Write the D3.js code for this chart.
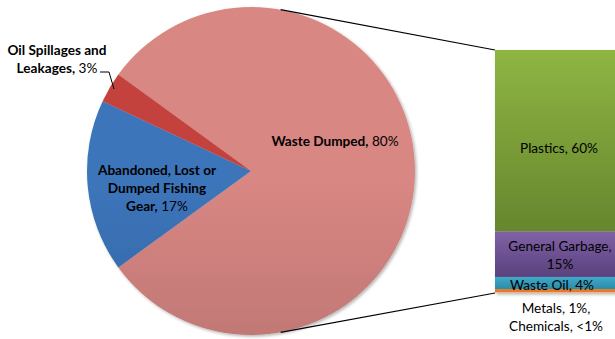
<!DOCTYPE html>
<html><head><meta charset="utf-8">
<script src="https://cdn.jsdelivr.net/npm/d3@7"></script>
<style>body{margin:0;background:#fff}svg{display:block;font-family:Lato,"Open Sans",sans-serif}</style>
</head><body><svg id="c" width="615" height="339"></svg>
<script>
// ---- data ----
const pieCategories = ["Waste Dumped", "Abandoned, Lost or Dumped Fishing Gear", "Oil Spillages and Leakages"];
const pieValues = [80, 17, 3];
const barCategories = ["Plastics", "General Garbage", "Waste Oil", "Metals", "Chemicals"];
const barValues = [60, 15, 4, 1, 0.3];
const barLabels = ["Plastics, 60%", "General Garbage,|15%", "Waste Oil, 4%", "Metals, 1%,|Chemicals, <1%"];

// ---- layout ----
const svg = d3.select("#c");
const cx = 251, cy = 171, R = 164;
const FS = 13.6;
const pieColors = [["#d98783", "#a86967"], ["#3d75bb", "#2a5790"], ["#c4433e", "#9e302c"]];
const barColors = [["#8fb543", "#66862d"], ["#8061a6", "#5a417d"], ["#3fa9c9", "#2b8cab"], ["#e8782a", "#e8782a"], ["#f4b183", "#f4b183"]];

const defs = svg.append("defs");
function grad(id, c, y1, y2) {
  const g = defs.append("linearGradient").attr("id", id).attr("gradientUnits", "userSpaceOnUse")
    .attr("x1", 0).attr("x2", 0).attr("y1", y1).attr("y2", y2);
  g.append("stop").attr("offset", 0).attr("stop-color", c[0]);
  g.append("stop").attr("offset", 1).attr("stop-color", c[1]);
}
pieColors.forEach((c, i) => grad("pg" + i, c, cy - R, cy + R));
const f = defs.append("filter").attr("id", "sh").attr("x", "-10%").attr("y", "-10%").attr("width", "120%").attr("height", "120%");
f.append("feDropShadow").attr("dx", 1.5).attr("dy", 1.5).attr("stdDeviation", 1.5).attr("flood-color", "#000").attr("flood-opacity", 0.3);

const pie = d3.pie().sort(null).startAngle(-0.3 * Math.PI).endAngle(1.7 * Math.PI);
const arcs = pie(pieValues);
const arc = d3.arc().innerRadius(0).outerRadius(R);
const pg = svg.append("g").attr("transform", `translate(${cx},${cy})`).attr("filter", "url(#sh)");
pg.selectAll("path").data(arcs).join("path")
  .attr("d", arc).attr("fill", (d, i) => `url(#pg${i})`);

// ---- bar ----
const barX0 = 495, barX1 = 622, barTop = 50, barBottom = 293;
const total = d3.sum(barValues);
const y = d3.scaleLinear().domain([0, total]).range([barTop, barBottom]);
const stack = [];
let acc = 0;
barValues.forEach((v, i) => { stack.push({ i, y0: acc, y1: acc + v }); acc += v; });
stack.forEach(s => grad("bg" + s.i, barColors[s.i], y(s.y0), y(s.y1)));
svg.append("g").attr("filter", "url(#sh)").selectAll("rect").data(stack).join("rect")
  .attr("x", barX0).attr("width", barX1 - barX0)
  .attr("y", d => y(d.y0)).attr("height", d => y(d.y1) - y(d.y0))
  .attr("fill", d => `url(#bg${d.i})`);

// ---- connector lines ----
const ca = 10.4 * Math.PI / 180;
svg.append("line").attr("x1", cx + R * Math.sin(ca)).attr("y1", cy - R * Math.cos(ca))
  .attr("x2", barX0).attr("y2", y(0)).attr("stroke", "#000").attr("stroke-width", 1.2);
svg.append("line").attr("x1", cx + R * Math.sin(ca)).attr("y1", cy + R * Math.cos(ca))
  .attr("x2", barX0).attr("y2", y(total)).attr("stroke", "#000").attr("stroke-width", 1.2);

// ---- labels ----
function label(x, yy, lines, boldParts, size) {
  const t = svg.append("text").attr("text-anchor", "middle").attr("font-size", size || FS).attr("fill", "#000");
  lines.forEach((ln, k) => {
    const ts = t.append("tspan").attr("x", x).attr("y", yy + k * 18).attr("dominant-baseline", "central");
    const b = boldParts[k];
    if (b) {
      ts.append("tspan").attr("font-weight", "bold").text(b);
      ts.append("tspan").text(ln.slice(b.length));
    } else ts.text(ln);
  });
}
label(335, 141, ["Waste Dumped, 80%"], ["Waste Dumped,"]);
label(157, 170, ["Abandoned, Lost or", "Dumped Fishing", "Gear, 17%"], ["Abandoned, Lost or", "Dumped Fishing", "Gear,"]);
label(57, 50, ["Oil Spillages and", "Leakages, 3%"], ["Oil Spillages and", "Leakages,"]);
svg.append("path").attr("d", "M100,72 H109 L114,89").attr("fill", "none").attr("stroke", "#000").attr("stroke-width", 1);

label(559, 148, barLabels[0].split("|"), []);
label(560, 246, barLabels[1].split("|"), []);
label(552, 285, barLabels[2].split("|"), []);
label(556, 308, barLabels[3].split("|"), []);
</script></body></html>
